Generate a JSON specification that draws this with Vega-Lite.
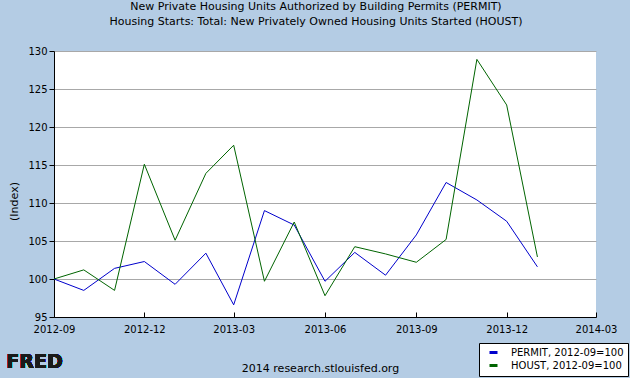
{
  "$schema": "https://vega.github.io/schema/vega-lite/v6.json",
  "width": 542,
  "height": 266,
  "autosize": {"type": "none"},
  "padding": {"left": 54, "top": 51, "right": 34, "bottom": 61},
  "background": "#B4CCE4",
  "title": {
    "text": ["New Private Housing Units Authorized by Building Permits (PERMIT)", "Housing Starts: Total: New Privately Owned Housing Units Started (HOUST)"],
    "font": "DejaVu Sans",
    "fontSize": 11,
    "fontWeight": "normal",
    "color": "black",
    "anchor": "middle",
    "frame": "group",
    "lineHeight": 15,
    "offset": 19,
    "dx": -9
  },
  "config": {
    "font": "DejaVu Sans",
    "view": {"stroke": null, "fill": "white"}
  },
  "data": {
    "values": [
      {"date": "2012-09-01", "series": "PERMIT, 2012-09=100", "value": 100},
      {"date": "2012-10-01", "series": "PERMIT, 2012-09=100", "value": 98.5},
      {"date": "2012-11-01", "series": "PERMIT, 2012-09=100", "value": 101.4},
      {"date": "2012-12-01", "series": "PERMIT, 2012-09=100", "value": 102.3},
      {"date": "2013-01-01", "series": "PERMIT, 2012-09=100", "value": 99.3},
      {"date": "2013-02-01", "series": "PERMIT, 2012-09=100", "value": 103.4},
      {"date": "2013-03-01", "series": "PERMIT, 2012-09=100", "value": 96.6},
      {"date": "2013-04-01", "series": "PERMIT, 2012-09=100", "value": 109.0},
      {"date": "2013-05-01", "series": "PERMIT, 2012-09=100", "value": 107.1},
      {"date": "2013-06-01", "series": "PERMIT, 2012-09=100", "value": 99.7},
      {"date": "2013-07-01", "series": "PERMIT, 2012-09=100", "value": 103.5},
      {"date": "2013-08-01", "series": "PERMIT, 2012-09=100", "value": 100.5},
      {"date": "2013-09-01", "series": "PERMIT, 2012-09=100", "value": 105.8},
      {"date": "2013-10-01", "series": "PERMIT, 2012-09=100", "value": 112.7},
      {"date": "2013-11-01", "series": "PERMIT, 2012-09=100", "value": 110.4},
      {"date": "2013-12-01", "series": "PERMIT, 2012-09=100", "value": 107.6},
      {"date": "2014-01-01", "series": "PERMIT, 2012-09=100", "value": 101.6},
      {"date": "2012-09-01", "series": "HOUST, 2012-09=100", "value": 100},
      {"date": "2012-10-01", "series": "HOUST, 2012-09=100", "value": 101.2},
      {"date": "2012-11-01", "series": "HOUST, 2012-09=100", "value": 98.5},
      {"date": "2012-12-01", "series": "HOUST, 2012-09=100", "value": 115.1},
      {"date": "2013-01-01", "series": "HOUST, 2012-09=100", "value": 105.1},
      {"date": "2013-02-01", "series": "HOUST, 2012-09=100", "value": 113.9},
      {"date": "2013-03-01", "series": "HOUST, 2012-09=100", "value": 117.6},
      {"date": "2013-04-01", "series": "HOUST, 2012-09=100", "value": 99.7},
      {"date": "2013-05-01", "series": "HOUST, 2012-09=100", "value": 107.5},
      {"date": "2013-06-01", "series": "HOUST, 2012-09=100", "value": 97.8},
      {"date": "2013-07-01", "series": "HOUST, 2012-09=100", "value": 104.25},
      {"date": "2013-08-01", "series": "HOUST, 2012-09=100", "value": 103.3},
      {"date": "2013-09-01", "series": "HOUST, 2012-09=100", "value": 102.2},
      {"date": "2013-10-01", "series": "HOUST, 2012-09=100", "value": 105.2},
      {"date": "2013-11-01", "series": "HOUST, 2012-09=100", "value": 128.9},
      {"date": "2013-12-01", "series": "HOUST, 2012-09=100", "value": 122.9},
      {"date": "2014-01-01", "series": "HOUST, 2012-09=100", "value": 102.9}
    ]
  },
  "layer": [
    {
      "mark": {"type": "line", "strokeWidth": 1},
      "encoding": {
        "x": {
          "field": "date",
          "type": "temporal",
          "title": "2014 research.stlouisfed.org",
          "scale": {
            "type": "utc",
            "domain": [
              {"year": 2012, "month": 9, "date": 1, "utc": true},
              {"year": 2014, "month": 3, "date": 1, "utc": true}
            ]
          },
          "axis": {
            "values": [
              {"year": 2012, "month": 9, "date": 1, "utc": true},
              {"year": 2012, "month": 12, "date": 1, "utc": true},
              {"year": 2013, "month": 3, "date": 1, "utc": true},
              {"year": 2013, "month": 6, "date": 1, "utc": true},
              {"year": 2013, "month": 9, "date": 1, "utc": true},
              {"year": 2013, "month": 12, "date": 1, "utc": true},
              {"year": 2014, "month": 3, "date": 1, "utc": true}
            ],
            "tickCount": 10,
            "labelExpr": "utcFormat(datum.value, '%Y-%m')",
            "grid": false,
            "domainColor": "black",
            "tickColor": "black",
            "tickSize": -5,
            "labelFontSize": 10,
            "labelColor": "black",
            "labelPadding": 12,
            "labelFlush": false,
            "labelOverlap": false,
            "titleFontSize": 11,
            "titleFontWeight": "normal",
            "titleColor": "black",
            "titlePadding": 28,
            "titleX": 266
          }
        },
        "y": {
          "field": "value",
          "type": "quantitative",
          "title": "(Index)",
          "scale": {"domain": [95, 130], "nice": false, "zero": false},
          "axis": {
            "values": [95, 100, 105, 110, 115, 120, 125, 130],
            "tickCount": 10,
            "labelOverlap": false,
            "domainColor": "black",
            "tickColor": "black",
            "tickSize": 5,
            "gridColor": "#A8A8A8",
            "labelFontSize": 10,
            "labelColor": "black",
            "labelPadding": 2,
            "titleFontSize": 11,
            "titleFontWeight": "normal",
            "titleColor": "black",
            "titlePadding": 8,
            "titleY": 150
          }
        },
        "color": {
          "field": "series",
          "type": "nominal",
          "scale": {
            "domain": ["PERMIT, 2012-09=100", "HOUST, 2012-09=100"],
            "range": ["#0000CC", "#006400"]
          },
          "legend": {
            "orient": "none",
            "legendX": 425,
            "legendY": 292,
            "title": null,
            "fillColor": "white",
            "strokeColor": "black",
            "padding": 4,
            "labelFontSize": 10,
            "labelColor": "black",
            "symbolType": "stroke",
            "symbolStrokeWidth": 3,
            "symbolSize": 64,
            "symbolOffset": 5,
            "labelOffset": 12,
            "rowPadding": 0
          }
        }
      }
    },
    {
      "mark": {"type": "text", "text": "FRED", "font": "DejaVu Sans", "fontWeight": "bold", "fontSize": 19, "color": "#1a1a1a", "align": "left", "baseline": "middle"},
      "encoding": {
        "x": {"datum": {"year": 2012, "month": 7, "date": 15, "utc": true}, "type": "temporal"},
        "y": {"datum": 89.1, "type": "quantitative"}
      }
    }
  ]
}
